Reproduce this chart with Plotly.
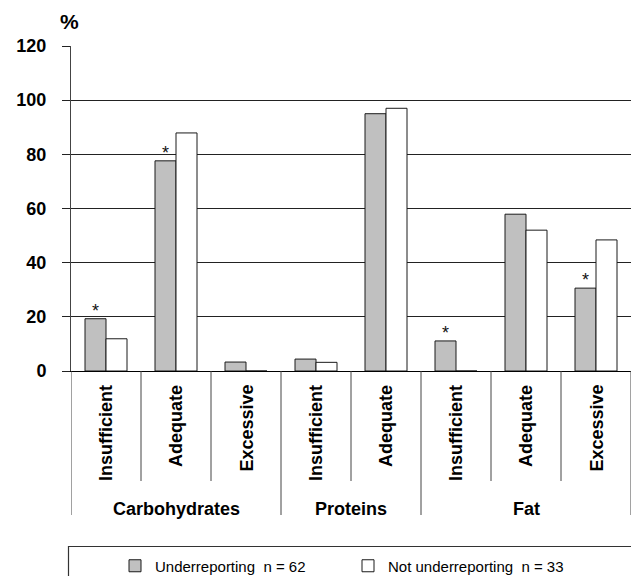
import plotly.graph_objects as go

# ---- data ----
groups = ["Carbohydrates", "Carbohydrates", "Carbohydrates",
          "Proteins", "Proteins",
          "Fat", "Fat", "Fat"]
levels = ["Insufficient", "Adequate", "Excessive",
          "Insufficient", "Adequate",
          "Insufficient", "Adequate", "Excessive"]
under = [19.3, 77.6, 3.3, 4.4, 95.0, 11.1, 57.9, 30.6]
not_under = [11.9, 87.9, 0, 3.2, 97.0, 0, 52.0, 48.4]
significant = [True, True, False, False, False, True, False, True]
yticks = [0, 20, 40, 60, 80, 100, 120]
series_names = ["Underreporting\u00a0\u00a0n = 62", "Not underreporting\u00a0\u00a0n = 33"]

FONT = "Liberation Sans, Arial, Helvetica, sans-serif"
W, H = 631, 576
ML, MR, MT, MB = 71, 0, 46, 205
PW, PH = W - ML - MR, H - MT - MB


def px_x(p):
    return (p - ML) / PW


def px_y(p):
    return (H - MB - p) / PH


cats = list(range(len(levels)))

fig = go.Figure()
fig.add_trace(go.Bar(x=cats, y=under, name=series_names[0],
                     marker=dict(color="#c0c0c0", line=dict(color="#1a1a1a", width=1))))
fig.add_trace(go.Bar(x=cats, y=not_under, name=series_names[1],
                     marker=dict(color="#ffffff", line=dict(color="#1a1a1a", width=1))))

annotations = []
# significance asterisks above gray bars
for i, (v, s) in enumerate(zip(under, significant)):
    if s:
        annotations.append(dict(x=cats[i], y=v, xref="x", yref="y", text="*",
                                showarrow=False, xshift=-10.5, yshift=-4,
                                yanchor="bottom",
                                font=dict(family=FONT, size=18, color="#111")))
# sub-category labels
for i, lab in enumerate(levels):
    annotations.append(dict(x=cats[i], y=px_y(383), xref="x", yref="paper",
                            text=lab, textangle=-90, showarrow=False,
                            yanchor="top", xanchor="center",
                            font=dict(family=FONT, size=18, color="#000", weight="bold")))
# group labels
gnames = []
for g in groups:
    if g not in gnames:
        gnames.append(g)
for g in gnames:
    idx = [i for i, gg in enumerate(groups) if gg == g]
    center = (idx[0] + idx[-1]) / 2
    annotations.append(dict(x=center, y=px_y(509), xref="x", yref="paper",
                            text=g, showarrow=False, yanchor="middle",
                            font=dict(family=FONT, size=18, color="#000", weight="bold")))
# percent sign
annotations.append(dict(x=px_x(69.5), y=px_y(22), xref="paper", yref="paper",
                        text="%", showarrow=False, xanchor="center", yanchor="middle",
                        font=dict(family=FONT, size=21, color="#000", weight="bold")))

shapes = []
for i in range(len(levels) + 1):
    xpos = i - 0.5
    if i == 0 or i == len(levels) or groups[i] != groups[i - 1]:
        ybot = px_y(515)
    else:
        ybot = px_y(481)
    shapes.append(dict(type="line", xref="x", yref="paper", x0=xpos, x1=xpos,
                       y0=0, y1=ybot, line=dict(color="#444", width=1)))
# legend box
shapes.append(dict(type="rect", xref="paper", yref="paper",
                   x0=px_x(68.5), x1=px_x(640), y0=px_y(546.5), y1=px_y(590),
                   line=dict(color="#333", width=1.2), fillcolor="rgba(0,0,0,0)"))

fig.update_layout(
    width=W, height=H,
    margin=dict(l=ML, r=MR, t=MT, b=MB, autoexpand=False),
    paper_bgcolor="white", plot_bgcolor="white",
    barmode="group", bargap=0.4, bargroupgap=0,
    font=dict(family=FONT, color="#000"),
    showlegend=True,
    legend=dict(orientation="h", x=px_x(115), y=px_y(566), xanchor="left", yanchor="middle",
                font=dict(family=FONT, size=15, color="#000"),
                entrywidth=188, entrywidthmode="pixels",
                bgcolor="rgba(0,0,0,0)", borderwidth=0, traceorder="normal"),
    annotations=annotations,
    shapes=shapes,
    xaxis=dict(range=[-0.5, len(levels) - 0.5], showticklabels=False, ticks="",
               showgrid=False, zeroline=False, showline=True, linecolor="#000",
               linewidth=1, fixedrange=True),
    yaxis=dict(range=[0, 120], tickvals=yticks, showgrid=True, gridcolor="#222",
               gridwidth=1, zeroline=False, showline=True, linecolor="#444", linewidth=1,
               ticks="outside", ticklen=8, tickcolor="#222", tickwidth=1,
               ticklabelstandoff=12, fixedrange=True,
               tickfont=dict(family=FONT, size=18, color="#000", weight="bold")),
)

fig.write_html("out.html", config={"displayModeBar": False},
               post_script="document.body.style.margin='0';document.body.style.overflow='hidden';")
